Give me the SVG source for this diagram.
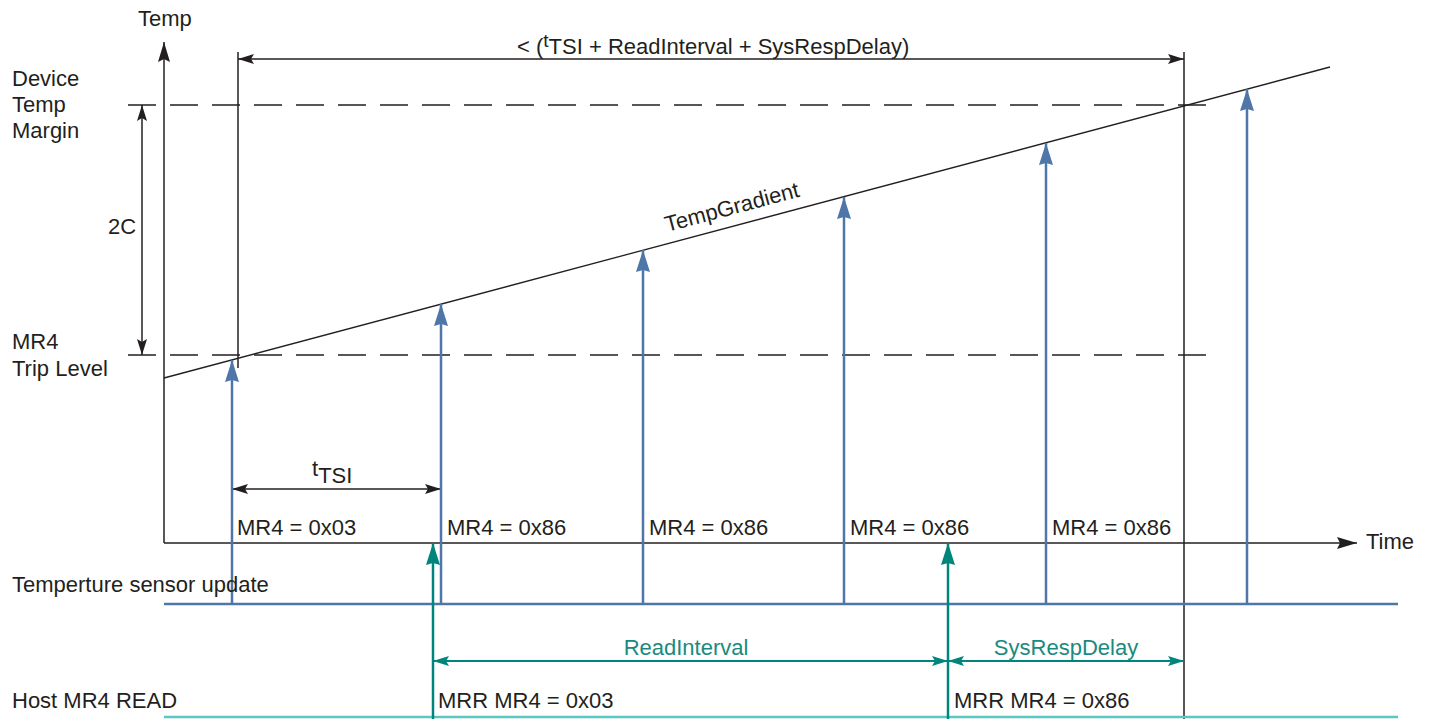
<svg xmlns="http://www.w3.org/2000/svg" width="1432" height="719" viewBox="0 0 1432 719">
<defs>
<style>
text{font-family:"Liberation Sans","Open Sans",sans-serif;font-size:22px;fill:#231f20}
.tl{fill:#1a8a80}
.ax{stroke:#231f20;stroke-width:1.5;fill:none}
.dash{stroke:#231f20;stroke-width:1.3;stroke-dasharray:28 14;fill:none}
.blue{stroke:#4f76a8;stroke-width:2.5;fill:none}
.teal{stroke:#00857c;stroke-width:2.5;fill:none}
</style>
<marker id="ab" markerUnits="userSpaceOnUse" markerWidth="22" markerHeight="14" viewBox="0 0 22 14" refX="22" refY="7" orient="auto-start-reverse">
<path d="M22 7 L0 0 L2 7 L0 14 Z" fill="#4f76a8"/></marker>
<marker id="at" markerUnits="userSpaceOnUse" markerWidth="22" markerHeight="14" viewBox="0 0 22 14" refX="22" refY="7" orient="auto-start-reverse">
<path d="M22 7 L0 0 L2 7 L0 14 Z" fill="#00857c"/></marker>
<marker id="ak" markerUnits="userSpaceOnUse" markerWidth="20" markerHeight="12" viewBox="0 0 20 12" refX="20" refY="6" orient="auto-start-reverse">
<path d="M20 6 L0 0 L3 6 L0 12 Z" fill="#231f20"/></marker>
<marker id="aks" markerUnits="userSpaceOnUse" markerWidth="16" markerHeight="10" viewBox="0 0 16 10" refX="16" refY="5" orient="auto-start-reverse">
<path d="M16 5 L0 0 L3 5 L0 10 Z" fill="#231f20"/></marker>
<marker id="ats" markerUnits="userSpaceOnUse" markerWidth="16" markerHeight="10" viewBox="0 0 16 10" refX="16" refY="5" orient="auto-start-reverse">
<path d="M16 5 L0 0 L3 5 L0 10 Z" fill="#00857c"/></marker>
</defs>
<rect width="1432" height="719" fill="#fff"/>

<g id="axes">
<line class="ax" x1="164" y1="543" x2="164" y2="42" marker-end="url(#ak)"/>
<line class="ax" x1="164" y1="543" x2="1357" y2="543" marker-end="url(#ak)"/>
<text x="138" y="26">Temp</text>
<text x="1366" y="549">Time</text>
</g>

<g id="levels">
<line class="dash" x1="128" y1="105" x2="1208" y2="105"/>
<line class="dash" x1="128" y1="355" x2="1210" y2="355"/>
<text x="12" y="86">Device</text>
<text x="12" y="112">Temp</text>
<text x="12" y="138">Margin</text>
<text x="12" y="349">MR4</text>
<text x="12" y="376">Trip Level</text>
</g>

<g id="gradient">
<line x1="164" y1="378" x2="1330" y2="67" stroke="#231f20" stroke-width="1.3"/>
<text transform="translate(667,232) rotate(-14.9)">TempGradient</text>
</g>

<g id="connectors">
<line class="ax" x1="142" y1="105" x2="142" y2="355" marker-start="url(#aks)" marker-end="url(#aks)"/>
<line class="ax" x1="238" y1="52" x2="238" y2="368"/>
<line class="ax" x1="1184" y1="52" x2="1184" y2="719"/>
<line class="ax" x1="238" y1="59" x2="1184" y2="59" marker-start="url(#aks)" marker-end="url(#aks)"/>
<line class="ax" x1="232" y1="489" x2="441" y2="489" marker-start="url(#aks)" marker-end="url(#aks)"/>

<line x1="164" y1="604" x2="1398" y2="604" stroke="#4f76a8" stroke-width="2.5"/>
<line x1="164" y1="717" x2="1398" y2="717" stroke="#5cc6c4" stroke-width="2.5"/>

<line class="blue" x1="232" y1="604" x2="232" y2="360" marker-end="url(#ab)"/>
<line class="blue" x1="441" y1="604" x2="441" y2="304" marker-end="url(#ab)"/>
<line class="blue" x1="643" y1="604" x2="643" y2="250" marker-end="url(#ab)"/>
<line class="blue" x1="844" y1="604" x2="844" y2="197" marker-end="url(#ab)"/>
<line class="blue" x1="1046" y1="604" x2="1046" y2="143" marker-end="url(#ab)"/>
<line class="blue" x1="1247" y1="604" x2="1247" y2="89" marker-end="url(#ab)"/>

<line class="teal" x1="433" y1="719" x2="433" y2="543" marker-end="url(#at)"/>
<line class="teal" x1="948" y1="719" x2="948" y2="543" marker-end="url(#at)"/>
<line x1="433" y1="661" x2="948" y2="661" stroke="#00857c" stroke-width="2" marker-start="url(#ats)" marker-end="url(#ats)"/>
<line x1="948" y1="661" x2="1184" y2="661" stroke="#00857c" stroke-width="2" marker-start="url(#ats)" marker-end="url(#ats)"/>
</g>

<g id="labels">
<text x="517" y="54">&lt; (<tspan font-size="19" dy="-7">t</tspan><tspan dy="7">TSI + ReadInterval + SysRespDelay)</tspan></text>
<text x="108" y="234">2C</text>
<text x="312" y="476">t<tspan dy="7">TSI</tspan></text>
<text x="237" y="535">MR4 = 0x03</text>
<text x="447" y="535">MR4 = 0x86</text>
<text x="649" y="535">MR4 = 0x86</text>
<text x="850" y="535">MR4 = 0x86</text>
<text x="1052" y="535">MR4 = 0x86</text>
<text x="12" y="592">Temperture sensor update</text>
<text class="tl" x="686" y="655" text-anchor="middle">ReadInterval</text>
<text class="tl" x="1066" y="655" text-anchor="middle">SysRespDelay</text>
<text x="12" y="708">Host MR4 READ</text>
<text x="438" y="708">MRR MR4 = 0x03</text>
<text x="954" y="708">MRR MR4 = 0x86</text>
</g>
</svg>
